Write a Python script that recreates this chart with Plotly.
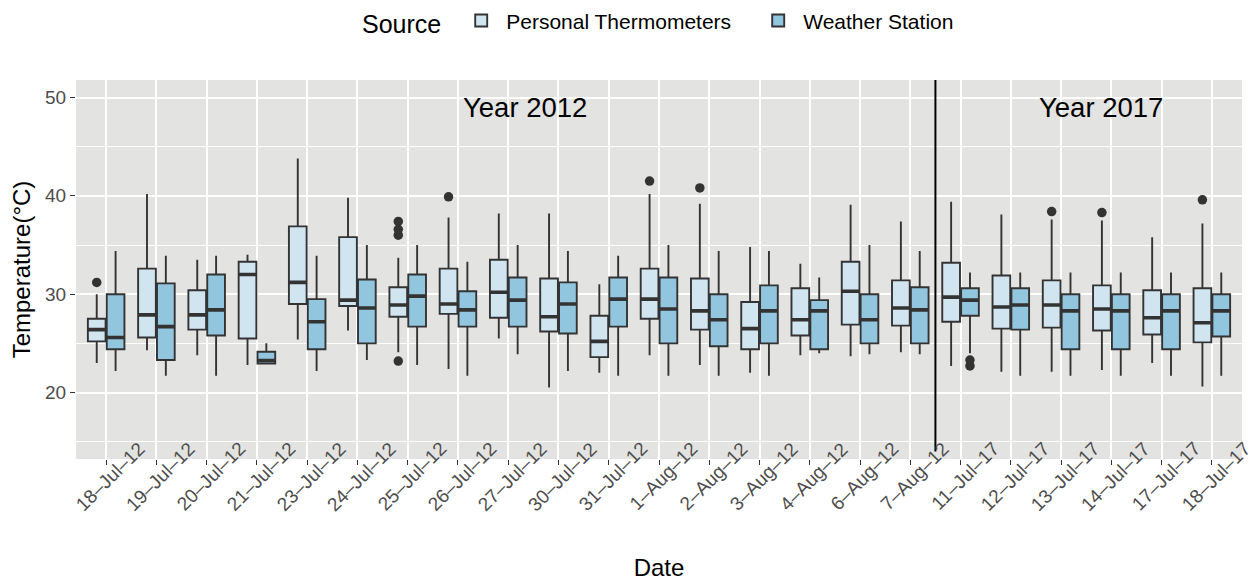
import plotly.graph_objects as go

dates = ["18–Jul–12", "19–Jul–12", "20–Jul–12", "21–Jul–12", "23–Jul–12", "24–Jul–12",
         "25–Jul–12", "26–Jul–12", "27–Jul–12", "30–Jul–12", "31–Jul–12", "1–Aug–12",
         "2–Aug–12", "3–Aug–12", "4–Aug–12", "6–Aug–12", "7–Aug–12", "11–Jul–17",
         "12–Jul–17", "13–Jul–17", "14–Jul–17", "17–Jul–17", "18–Jul–17"]

# Personal Thermometers
pt_low = [23.0, 24.3, 23.8, 22.8, 25.4, 26.3, 24.1, 22.4, 25.5, 20.5, 22.0, 23.8,
          22.8, 22.0, 23.8, 23.7, 24.1, 22.7, 22.1, 22.1, 22.3, 23.0, 20.6]
pt_q1 = [25.2, 25.6, 26.4, 25.5, 29.0, 28.8, 27.7, 28.0, 27.6, 26.2, 23.6, 27.5,
         26.4, 24.4, 25.8, 26.9, 26.8, 27.2, 26.5, 26.6, 26.3, 25.9, 25.1]
pt_med = [26.4, 27.9, 27.9, 32.0, 31.2, 29.4, 28.9, 29.0, 30.2, 27.7, 25.2, 29.5,
          28.3, 26.5, 27.4, 30.3, 28.6, 29.7, 28.7, 28.9, 28.5, 27.6, 27.1]
pt_q3 = [27.5, 32.6, 30.4, 33.3, 36.9, 35.8, 30.7, 32.6, 33.5, 31.6, 27.8, 32.6,
         31.6, 29.2, 30.6, 33.3, 31.4, 33.2, 31.9, 31.4, 30.9, 30.4, 30.6]
pt_high = [30.0, 40.2, 33.5, 34.0, 43.8, 39.8, 33.7, 37.8, 38.2, 38.2, 31.0, 40.2,
           39.2, 34.8, 33.1, 39.1, 37.4, 39.4, 38.1, 37.6, 37.5, 35.8, 37.2]
pt_outliers = [[31.2], [], [], [], [], [], [23.2, 36.0, 36.6, 37.4], [39.9], [], [], [],
               [41.5], [40.8], [], [], [], [], [], [], [38.4], [38.3], [], [39.6]]

# Weather Station
ws_low = [22.2, 21.7, 21.7, 22.95, 22.2, 23.3, 22.8, 21.7, 23.9, 22.2, 21.7, 21.7,
          21.7, 21.7, 24.0, 23.9, 23.9, 24.0, 21.7, 21.7, 21.7, 21.7, 21.7]
ws_q1 = [24.4, 23.3, 25.8, 22.95, 24.4, 25.0, 26.7, 26.7, 26.7, 26.0, 26.7, 25.0,
         24.7, 25.0, 24.4, 25.0, 25.0, 27.8, 26.4, 24.4, 24.4, 24.4, 25.7]
ws_med = [25.6, 26.7, 28.4, 23.25, 27.2, 28.6, 29.8, 28.4, 29.4, 29.0, 29.5, 28.5,
          27.4, 28.3, 28.3, 27.4, 28.4, 29.4, 28.9, 28.3, 28.3, 28.3, 28.3]
ws_q3 = [30.0, 31.1, 32.0, 24.15, 29.5, 31.5, 32.0, 30.3, 31.7, 31.2, 31.7, 31.7,
         30.0, 30.9, 29.4, 30.0, 30.7, 30.6, 30.6, 30.0, 30.0, 30.0, 30.0]
ws_high = [34.4, 33.9, 33.9, 25.0, 33.9, 35.0, 35.0, 33.3, 35.0, 34.4, 33.9, 35.0,
           34.4, 34.4, 31.7, 35.0, 34.4, 32.2, 32.2, 32.2, 32.2, 32.2, 32.2]
ws_outliers = [[], [], [], [], [], [], [], [], [], [], [], [], [], [], [], [], [],
               [22.7, 23.3], [], [], [], [], []]

year_labels = ["Year 2012", "Year 2017"]
year_pos = [8.33, 19.8]
year_split = 16.5

LINE = "#333333"
FONT = "Liberation Sans, Arial, sans-serif"

series = [
    ("Personal Thermometers", "pt", "#d1e5f0", pt_low, pt_q1, pt_med, pt_q3, pt_high, pt_outliers),
    ("Weather Station", "ws", "#92c5de", ws_low, ws_q1, ws_med, ws_q3, ws_high, ws_outliers),
]

fig = go.Figure()
for name, grp, fill, lo, q1, md, q3, hi, outs in series:
    # empty sample lists get a blank (None) so plotly keeps the 2-D sample layout
    samples = [o if o else [None] for o in outs]
    fig.add_trace(go.Box(
        name=name, x=dates, y=samples,
        q1=q1, median=md, q3=q3, lowerfence=lo, upperfence=hi,
        boxpoints="outliers", jitter=0, pointpos=0,
        fillcolor=fill, line=dict(color=LINE, width=1.9),
        marker=dict(color=LINE, size=9.5, line=dict(width=0)),
        whiskerwidth=0, hoverinfo="skip",
        offsetgroup=grp, alignmentgroup="all",
    ))
# thick median bars (ggplot style) drawn as zero-height boxes at the medians
for name, grp, fill, lo, q1, md, q3, hi, outs in series:
    fig.add_trace(go.Box(
        name=name + " median", x=dates,
        q1=md, median=md, q3=md, lowerfence=md, upperfence=md,
        boxpoints=False, fillcolor=LINE, line=dict(color=LINE, width=3.6),
        whiskerwidth=0, hoverinfo="skip", showlegend=False,
        offsetgroup=grp, alignmentgroup="all",
    ))

annotations = []
for d in dates:
    annotations.append(dict(
        x=d, xref="x", y=-0.045, yref="paper", text=d, showarrow=False,
        textangle=-45, xanchor="center", yanchor="middle", xshift=4,
        font=dict(family=FONT, size=19, color="#4d4d4d"),
    ))
for lbl, pos in zip(year_labels, year_pos):
    annotations.append(dict(
        x=pos, xref="x", y=49.0, yref="y", text=lbl, showarrow=False,
        xanchor="center", yanchor="middle",
        font=dict(family=FONT, size=27.5, color="black"),
    ))

# the page body adds an 8 px offset, so the figure is 8 px smaller and margins shifted
fig.update_layout(
    width=1248, height=576,
    margin=dict(l=68, r=14, t=72, b=125, autoexpand=False),
    paper_bgcolor="white", plot_bgcolor="#e3e4e2",
    boxmode="group", boxgap=0.25, boxgroupgap=0.06,
    font=dict(family=FONT, size=20, color="black"),
    showlegend=True,
    legend=dict(
        orientation="h", x=0.2436, xanchor="left", xref="paper",
        y=0.976, yanchor="middle", yref="container",
        title=dict(text="Source ", font=dict(size=25, color="black"), side="left"),
        font=dict(size=21, color="black"), itemwidth=40,
        entrywidth=242, entrywidthmode="pixels",
    ),
    annotations=annotations,
    shapes=[dict(type="line", xref="x", yref="paper", x0=year_split, x1=year_split,
                 y0=0.02, y1=1, line=dict(color="black", width=2))],
)
fig.update_xaxes(
    type="category", categoryorder="array", categoryarray=dates,
    range=[-0.6, len(dates) - 0.4], automargin=False,
    showgrid=True, gridcolor="white", gridwidth=1.6,
    showticklabels=False, ticks="outside", ticklen=5, tickcolor=LINE, tickwidth=1.2,
    zeroline=False, showline=False,
    title=dict(text="Date", font=dict(size=24, color="black"), standoff=95),
)
fig.update_yaxes(
    range=[13.24, 51.78], dtick=10, tick0=0, automargin=False,
    showgrid=True, gridcolor="white", gridwidth=1.6,
    minor=dict(dtick=5, showgrid=True, gridcolor="white", gridwidth=0.8, ticklen=0),
    ticks="outside", ticklen=5, tickcolor=LINE, tickwidth=1.2,
    tickfont=dict(size=19, color="#4d4d4d"),
    zeroline=False, showline=False,
    title=dict(text="Temperature(°C)", font=dict(size=24, color="black"), standoff=8),
)

fig.write_html("out.html")
